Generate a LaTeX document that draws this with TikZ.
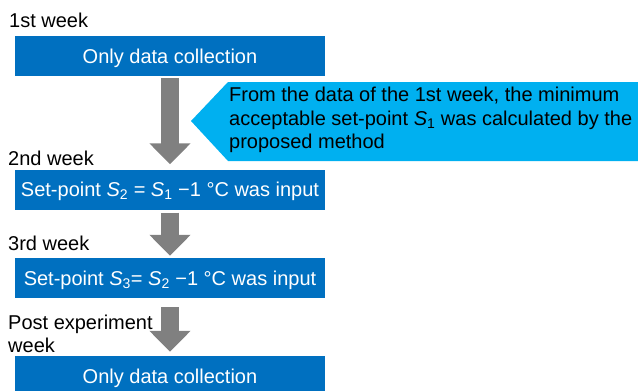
\documentclass[tikz,border=0pt]{standalone}
\usepackage{fontspec}
\setmainfont{Liberation Sans}
\usetikzlibrary{arrows.meta}
\definecolor{boxblue}{HTML}{0070C0}
\definecolor{noteblue}{HTML}{00B0F0}
\definecolor{arrowgray}{HTML}{808080}
\tikzset{
  weekbox/.style={fill=boxblue, text=white, minimum width=310pt, minimum height=40pt, inner sep=0pt, text height=16pt, text depth=2pt},
  weeklabel/.style={anchor=west, align=left, inner sep=0pt},
  blockarrow/.style={draw=arrowgray, line width=18pt, -{Triangle[length=21pt, width=40pt]}}
}
\begin{document}
\begin{tikzpicture}[x=1pt, y=-1pt, font=\fontsize{20}{23.5}\selectfont]
            \useasboundingbox (0,0) rectangle (638,391);
            % weeks
            \node [weeklabel] (lab1) at (9,20) {1st week};
            \node [weekbox] (box1) at (170,56) {Only data collection};
            \node [weeklabel] (lab2) at (8,158) {2nd week};
            \node [weekbox] (box2) at (170,189.5) {Set-point \textit{S}\textsubscript{2} = \textit{S}\textsubscript{1} −1 °C was input};
            \node [weeklabel] (lab3) at (8,243) {3rd week};
            \node [weekbox] (box3) at (170,278) {Set-point \textit{S}\textsubscript{3}= \textit{S}\textsubscript{2} −1 °C was input};
            \node [weeklabel] (lab4) at (8,334) {Post experiment\\week};
            \node [weekbox] (box4) at (170,376) {Only data collection};
            % callout
            \fill [noteblue] (191,121) -- (228,82) -- (645,82) -- (645,161) -- (228,161) -- cycle;
            \node [weeklabel] (note) at (229,120) {From the data of the 1st week, the minimum\\acceptable set-point \textit{S}\textsubscript{1} was calculated by the\\proposed method};
            % arrows
            \draw [blockarrow, shorten <=2pt, shorten >=5pt] (box1.south) -- (box2.north);
            \draw [blockarrow, shorten <=3pt, shorten >=2pt] (box2.south) -- (box3.north);
            \draw [blockarrow, shorten <=9pt, shorten >=4pt] (box3.south) -- (box4.north);
        \end{tikzpicture}
\end{document}
